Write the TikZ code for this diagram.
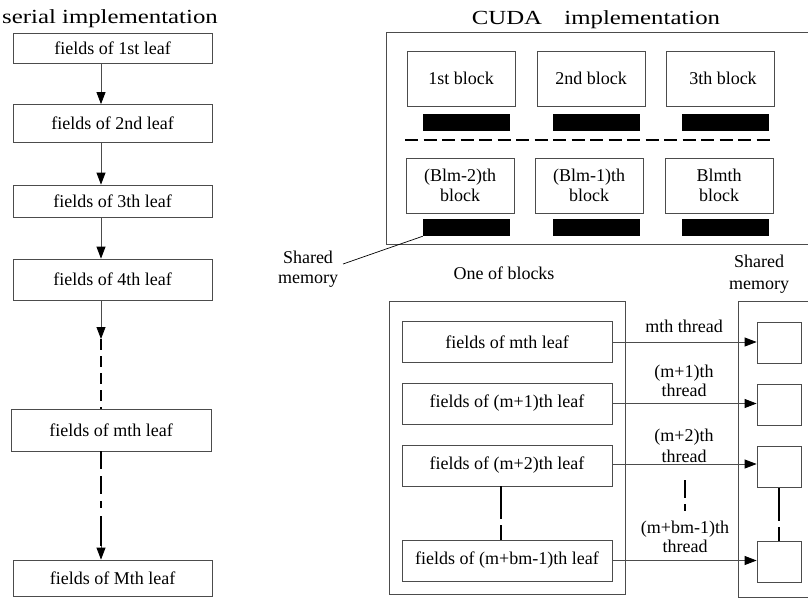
\documentclass[tikz,border=0pt]{standalone}
\usepackage{fontspec}
\usepackage{graphicx}
\setmainfont{Liberation Serif}
\usetikzlibrary{arrows.meta}
\tikzset{
  every node/.style={font=\fontsize{18}{19.5}\selectfont, inner sep=0pt, align=center},
  box/.style={draw=black!70, line width=0.8pt},
  leafbox/.style={box, minimum width=199pt},
  blk/.style={box, minimum width=108pt, minimum height=55pt},
  bar/.style={fill=black, minimum width=87pt, minimum height=17pt},
  sq/.style={box, minimum width=44pt, minimum height=41pt},
  inbox/.style={box, minimum width=210pt, minimum height=41pt},
  arr/.style={draw=black!70, line width=0.8pt, -{Triangle[length=12pt,width=9pt,black]}},
  dsh/.style={draw=black, line width=1.6pt},
  ttl/.style={anchor=base, font=\fontsize{20}{24}\selectfont},
}
\begin{document}
\begin{tikzpicture}[x=1pt, y=-1pt]
\useasboundingbox (0,0) rectangle (808,598);
\clip (0,0) rectangle (808,598);

% ---------- serial implementation ----------
\node[ttl] (tser) at (110,23) {\scalebox{1.24}[1]{serial implementation}};
\node[leafbox, minimum height=30pt] (s1) at (112.5,48) {fields of 1st leaf};
\node[leafbox, minimum height=38pt] (s2) at (112.5,123.5) {fields of 2nd leaf};
\node[leafbox, minimum height=32pt] (s3) at (112.5,201) {fields of 3th leaf};
\node[leafbox, minimum height=41pt] (s4) at (112.5,279.5) {fields of 4th leaf};
\node[leafbox, minimum height=42pt, minimum width=200pt] (sm) at (111,430) {fields of mth leaf};
\node[leafbox, minimum height=36pt] (sM) at (112.5,578) {fields of Mth leaf};

\coordinate (ax) at (101,0);
\coordinate (c1) at (101,339);
\coordinate (c2) at (101,546);
\draw[arr] (s1.south -| ax) -- (s2.north -| ax);
\draw[arr] (s2.south -| ax) -- (s3.north -| ax);
\draw[arr] (s3.south -| ax) -- (s4.north -| ax);
\draw[arr] (s4.south -| ax) -- (c1);
\draw[dsh, dash pattern=on 11pt off 6pt] (c1) -- (sm.north -| ax);
\draw[dsh, dash pattern=on 18pt off 7pt on 18pt off 7pt on 7pt off 8pt on 40pt] (sm.south -| ax) -- (c2);
\draw[arr] (c2) -- (sM.north -| ax);

% ---------- CUDA implementation ----------
\node[ttl] (tcuda) at (596,24) {\scalebox{1.24}[1]{CUDA\hspace{0.9em}implementation}};
\draw[box] (386,32) rectangle (815,244);

\node[blk] (b1) at (461,78.5) {1st block};
\node[blk] (b2) at (591,78.5) {2nd block};
\node[blk] (b3) at (720,78.5) {\hspace{6pt}3th block};
\node[bar] (r1) at (466.5,122.5) {};
\node[bar] (r2) at (596.5,122.5) {};
\node[bar] (r3) at (725.5,122.5) {};
\draw[dsh, line width=1.8pt, dash pattern=on 13pt off 5.5pt] (405,140) -- (770,140);
\node[blk] (b4) at (460,185.5) {(Blm-2)th\\block};
\node[blk] (b5) at (589,185.5) {(Blm-1)th\\block};
\node[blk] (b6) at (719,185.5) {Blmth\\block};
\node[bar] (r4) at (466.5,227.5) {};
\node[bar] (r5) at (596.5,227.5) {};
\node[bar] (r6) at (725.5,227.5) {};

\node (shl) at (308,269) {Shared\\memory};
\coordinate (lead) at (343,264);
\draw[line width=0.7pt] (lead) -- (r4.south west);
\node (onb) at (504,273) {One of blocks};
\node[font=\fontsize{18}{21.5}\selectfont] (shr) at (759,274) {Shared\\memory};

% ---------- one of blocks ----------
\draw[box] (389,301) rectangle (625,594);
\draw[box] (738,301) rectangle (815,597);

\node[inbox] (f1) at (507,342) {fields of mth leaf};
\node[inbox] (f2) at (507,403.5) {fields of (m+1)th leaf};
\node[inbox] (f3) at (507,465.5) {fields of (m+2)th leaf};
\node[inbox] (f4) at (507,560.5) {fields of (m+bm-1)th leaf};

\node[sq] (q1) at (779,342.5) {};
\node[sq] (q2) at (779,405) {};
\node[sq] (q3) at (779,467) {};
\node[sq] (q4) at (779,561.5) {};

\draw[arr] (f1.east) -- (f1.east -| q1.west);
\draw[arr] (f2.east) -- (f2.east -| q2.west);
\draw[arr] (f3.east |- 0,464) -- (q3.west |- 0,464);
\draw[arr] (f4.east) -- (f4.east -| q4.west);

\node (t1) at (684,326) {mth thread};
\node (t2) at (684,381) {(m+1)th\\thread};
\node[font=\fontsize{18}{21.5}\selectfont] (t3) at (684,446) {(m+2)th\\thread};
\node (t4) at (685,537) {(m+bm-1)th\\thread};

\coordinate (dx) at (501,0);
\draw[dsh, dash pattern=on 33pt off 6pt on 20pt] (f3.south -| dx) -- (f4.north -| dx);
\coordinate (d1) at (685,480);
\coordinate (d2) at (685,511);
\draw[dsh, dash pattern=on 18pt off 6pt on 8pt] (d1) -- (d2);
\draw[dsh, dash pattern=on 33pt off 6pt on 20pt] (q3.south) -- (q4.north);
\end{tikzpicture}
\end{document}
